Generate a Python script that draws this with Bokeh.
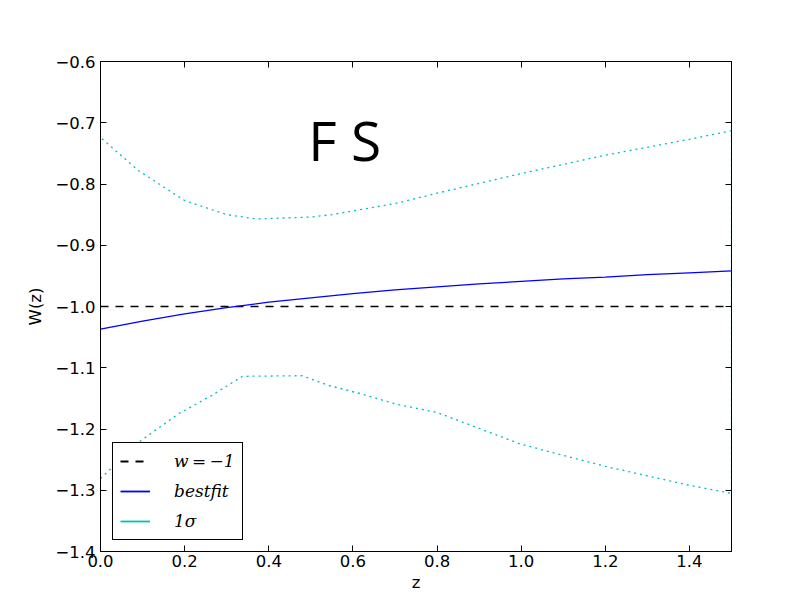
from bokeh.plotting import figure
from bokeh.models import Range1d, LinearAxis, FixedTicker, Legend, LegendItem, Label
from bokeh.embed import file_html
from bokeh.resources import INLINE

# ---- data ----
z_fit = [0.0, 0.1, 0.2, 0.3, 0.4, 0.5, 0.6, 0.7, 0.8, 0.9, 1.0, 1.1, 1.2, 1.3, 1.4, 1.5]
w_fit = [-1.037, -1.024, -1.012, -1.002, -0.993, -0.986, -0.979, -0.973, -0.968,
         -0.963, -0.959, -0.955, -0.952, -0.948, -0.945, -0.942]

z_upper = [0.0, 0.09, 0.2, 0.3, 0.37, 0.5, 0.55, 0.65, 0.7, 0.8, 1.0, 1.2, 1.4, 1.5]
w_upper = [-0.724, -0.778, -0.827, -0.850, -0.857, -0.854, -0.850, -0.838, -0.832,
           -0.815, -0.783, -0.753, -0.727, -0.713]

z_lower = [0.0, 0.09, 0.186, 0.265, 0.337, 0.479, 0.543, 0.622, 0.70, 0.8, 1.0, 1.2, 1.4, 1.5]
w_lower = [-1.281, -1.222, -1.175, -1.145, -1.114, -1.113, -1.129, -1.143, -1.159,
           -1.173, -1.225, -1.261, -1.292, -1.305]

w_ref = -1.0

x_ticks = [0.0, 0.2, 0.4, 0.6, 0.8, 1.0, 1.2, 1.4]
x_tick_labels = ["0.0", "0.2", "0.4", "0.6", "0.8", "1.0", "1.2", "1.4"]
y_ticks = [-1.4, -1.3, -1.2, -1.1, -1.0, -0.9, -0.8, -0.7, -0.6]
y_tick_labels = ["\u22121.4", "\u22121.3", "\u22121.2", "\u22121.1", "\u22121.0",
                 "\u22120.9", "\u22120.8", "\u22120.7", "\u22120.6"]

legend_labels = ["w\u2009=\u2009\u22121", "bestfit", "1\u03c3"]

# closed 1-sigma contour: lower branch, then upper branch reversed
z_contour = z_lower + z_upper[::-1]
w_contour = w_lower + w_upper[::-1]

nan = float("nan")

FONT = "DejaVu Sans"
FS = "16.5px"

p = figure(frame_width=631, frame_height=490,
           min_border_left=100, min_border_right=65, min_border_top=61, min_border_bottom=45,
           x_range=Range1d(0, 1.5), y_range=Range1d(-1.4, -0.6),
           output_backend="svg", toolbar_location=None,
           x_axis_label="z", y_axis_label="W(z)")
p.background_fill_color = "white"
p.border_fill_color = "white"
p.outline_line_color = "black"
p.outline_line_width = 1
p.grid.visible = False

def style_axis(ax, ticks, labels, show_labels):
    ax.ticker = FixedTicker(ticks=ticks)
    ax.major_label_overrides = {t: (l if show_labels else "") for t, l in zip(ticks, labels)}
    ax.major_tick_in = 6
    ax.major_tick_out = 0
    ax.minor_tick_in = 0
    ax.minor_tick_out = 0
    ax.axis_line_color = "black"
    ax.major_tick_line_color = "black"
    ax.major_label_text_font = FONT
    ax.major_label_text_font_size = FS
    ax.major_label_text_color = "black"
    ax.axis_label_text_font = FONT
    ax.axis_label_text_font_size = FS
    ax.axis_label_text_font_style = "normal"
    ax.axis_label_text_color = "black"

style_axis(p.xaxis[0], x_ticks, x_tick_labels, True)
style_axis(p.yaxis[0], y_ticks, y_tick_labels, True)
p.xaxis[0].major_label_standoff = 3
p.xaxis[0].axis_label_standoff = 3
p.yaxis[0].major_label_standoff = 5
p.yaxis[0].axis_label_standoff = 7

top = LinearAxis()
style_axis(top, x_ticks, x_tick_labels, False)
top.major_label_text_font_size = "0px"
p.add_layout(top, "above")
right = LinearAxis()
style_axis(right, y_ticks, y_tick_labels, False)
right.major_label_text_font_size = "0px"
p.add_layout(right, "right")

# lines
p.line(x=[0, 1.5], y=[w_ref, w_ref], line_color="black", line_width=1.3, line_dash="8 7")
p.line(x=z_fit, y=w_fit, line_color="#0000ff", line_width=1.3)
p.line(x=z_contour, y=w_contour, line_color="#00bfbf", line_width=1.3, line_dash="2 4")

# legend proxies (nothing drawn in the plot)
r_ref_leg = p.line(x=[nan], y=[nan], line_color="black", line_width=1.8, line_dash="8 7")
r_fit_leg = p.line(x=[nan], y=[nan], line_color="#0000ff", line_width=1.8)
r_sig_leg = p.line(x=[nan], y=[nan], line_color="#00bfbf", line_width=1.8)

legend = Legend(items=[
    LegendItem(label=legend_labels[0], renderers=[r_ref_leg]),
    LegendItem(label=legend_labels[1], renderers=[r_fit_leg]),
    LegendItem(label=legend_labels[2], renderers=[r_sig_leg]),
], location=(12, 11))
legend.label_text_font = "DejaVu Serif"
legend.label_text_font_style = "italic"
legend.label_text_font_size = "17px"
legend.label_text_color = "black"
legend.label_height = 22
legend.glyph_height = 22
legend.glyph_width = 30
legend.label_standoff = 24
legend.spacing = 8
legend.padding = 7
legend.margin = 0
legend.border_line_color = "black"
legend.border_line_width = 1
legend.border_line_alpha = 1
legend.background_fill_color = "white"
legend.background_fill_alpha = 1
p.add_layout(legend)

p.add_layout(Label(x=0.494, y=-0.728, text="F S", text_font="Open Sans",
                   text_font_size="55px", text_color="black",
                   text_align="left", text_baseline="alphabetic"))

open("out.html", "w").write(file_html(p, INLINE))
